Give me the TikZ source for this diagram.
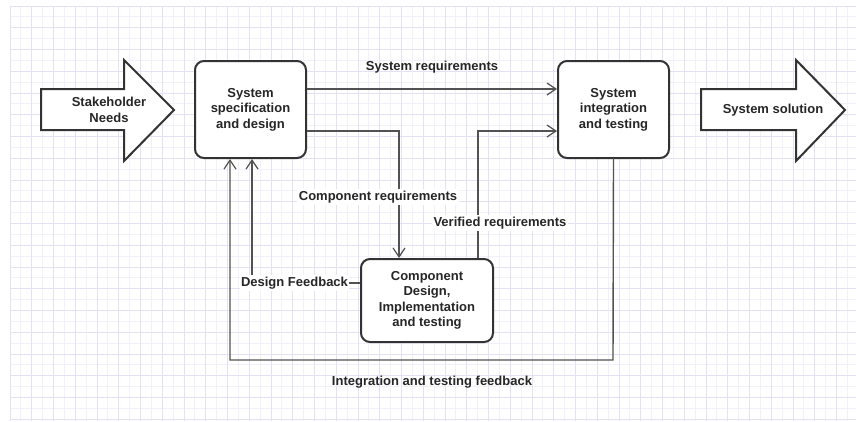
\documentclass[tikz,border=0pt]{standalone}
\usepackage{fontspec}
\setmainfont{Liberation Sans}
\usetikzlibrary{arrows.meta}
\definecolor{ink}{HTML}{333333}
\definecolor{gridmajor}{HTML}{E2E2F4}
\definecolor{gridminor}{HTML}{F1F1FA}
\tikzset{
  box/.style={draw=ink, line width=2pt, rounded corners=9pt, fill=white,
    align=center, font=\bfseries\fontsize{13}{15.5}\selectfont, text=black!85},
  blockarrow/.style={draw=ink, line width=2pt, fill=white, line join=miter},
  conn/.style={draw=ink!85, line width=1.4pt, -{Straight Barb[length=9pt,width=12pt,line width=1.2pt]}},
  lbl/.style={font=\bfseries\fontsize{13}{15.5}\selectfont, text=black!85, inner sep=1.5pt},
  lblbg/.style={lbl, fill=white},
}
\begin{document}
\begin{tikzpicture}[x=1pt,y=-1pt]
  % page and grid
  \fill[white] (0,0) rectangle (856,421);
  \useasboundingbox (0,0) rectangle (856,421);
  \begin{scope}
    \clip (10,6) rectangle (856,421);
    \foreach \i in {0,...,78} {
      \draw[gridminor, line width=0.8pt] ({10+10.875*\i},6) -- ({10+10.875*\i},421);
    }
    \foreach \j in {0,...,38} {
      \draw[gridminor, line width=0.8pt] (10,{6+10.875*\j}) -- (856,{6+10.875*\j});
    }
    \foreach \i in {0,...,39} {
      \draw[gridmajor, line width=1pt] ({10+21.75*\i},6) -- ({10+21.75*\i},421);
    }
    \foreach \j in {0,...,19} {
      \draw[gridmajor, line width=1pt] (10,{6+21.75*\j}) -- (856,{6+21.75*\j});
    }
  \end{scope}

  % block arrows at the two ends
  \draw[blockarrow] (41,89) -- (124,89) -- (124,60) -- (174,110) -- (124,161)
    -- (124,130) -- (41,130) -- cycle;
  \node[lbl, align=center] (needs) at (109,110) {Stakeholder\\Needs};
  \draw[blockarrow] (701,89) -- (796,89) -- (796,60) -- (845,110) -- (796,161)
    -- (796,130) -- (701,130) -- cycle;
  \node[lbl] (solution) at (773,110) {System solution};

  % process boxes
  \node[box, minimum width=111pt, minimum height=97pt] (spec) at (250.5,109.5)
    {System\\specification\\and design};
  \node[box, minimum width=111pt, minimum height=97pt] (integ) at (613.5,109.5)
    {System\\integration\\and testing};
  \node[box, minimum width=132pt, minimum height=83pt] (comp) at (427,300.5)
    {Component\\Design,\\Implementation\\and testing};

  % corner points of the routed connectors
  \coordinate (crq) at (399,131);
  \coordinate (vrq) at (478,131);
  \coordinate (dfb) at (252,283);
  \coordinate (ifl) at (230,360);
  \coordinate (ifr) at (613,360);

  % connectors
  \draw[conn] (spec.east |- 0,89) -- (integ.west |- 0,89);
  \draw[conn] (spec.east |- crq) -- (crq) -- (crq |- comp.north);
  \draw[conn] (vrq |- comp.north) -- (vrq) -- (integ.west |- vrq);
  \draw[conn] (comp.west |- dfb) -- (dfb) -- (dfb |- spec.south);
  \draw[conn] (integ.south |- 0,158) -- (ifr) -- (ifl) -- (ifl |- spec.south);

  % connector labels
  \node[lbl] (lsysreq) at (432,67) {System requirements};
  \node[lblbg] (lcompreq) at (378,197) {Component requirements};
  \node[lblbg] (lverreq) at (500,223) {Verified requirements};
  \node[lblbg] (ldesfb) at (294.5,283) {Design Feedback};
  \node[lbl] (lintfb) at (432,382) {Integration and testing feedback};
\end{tikzpicture}
\end{document}
